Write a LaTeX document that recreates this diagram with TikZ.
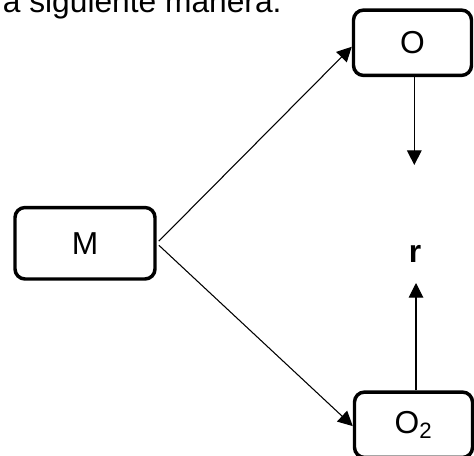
\documentclass[tikz,border=0pt]{standalone}
\usepackage{fontspec}
\setmainfont{Liberation Sans}
\usetikzlibrary{arrows.meta}
\begin{document}
\begin{tikzpicture}[x=0.75pt,y=-0.75pt,
  lbl/.style={font=\fontsize{23.8}{28}\selectfont},
  box/.style={draw, line width=2.6pt, rounded corners=7.5pt, minimum width=88.5pt, minimum height=49pt, inner sep=0pt, lbl},
  conn/.style={line width=0.8pt, -{Triangle[length=11pt,width=11pt]}},
  ]
\useasboundingbox (0,0) rectangle (474,455);
\clip (0,0) rectangle (474,455);
\node[anchor=base west, inner sep=0pt, lbl] (caption) at (2.6,12.3) {a siguiente manera.};
\node[box, minimum width=105pt, minimum height=53.6pt] (M) at (85,243.25) {M};
\node[box] (O) at (412.5,42.75) {O};
\node[box] (O2) at (413.5,424.75) {O\textsubscript{2}};
\node[anchor=base, inner sep=0pt, lbl, font=\fontsize{23.8}{28}\selectfont\bfseries] (r) at (415,262) {r};
\coordinate (d) at (414.3,165);
\coordinate (u) at (416,283);
\draw[conn] (d |- O.south) -- (d);
\draw[conn] (u |- O2.north) -- (u);
\draw[conn, shorten <=2.2pt] (M.east) -- ([yshift=-3pt]O.west);
\draw[conn, shorten <=2.2pt] (M.east) -- ([yshift=-1pt]O2.west);
\end{tikzpicture}
\end{document}
